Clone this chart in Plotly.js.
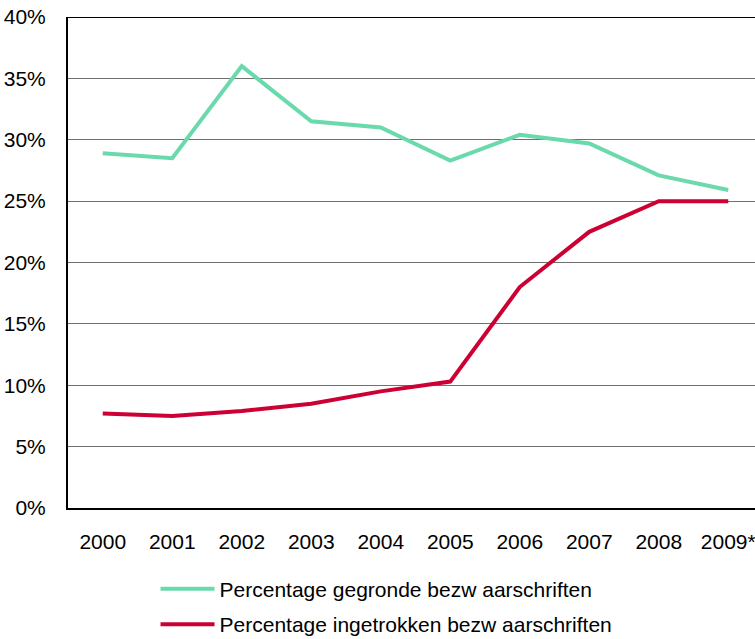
<!DOCTYPE html>
<html>
<head>
<meta charset="utf-8">
<script src="https://cdn.plot.ly/plotly-3.0.1.min.js"></script>
<style>html,body{margin:0;padding:0;background:#fff;overflow:hidden}#chart{width:755px;height:639px}</style>
</head>
<body>
<div id="chart"></div>
<script>
const years = ["2000","2001","2002","2003","2004","2005","2006","2007","2008","2009*"];
const gegronde = [28.9, 28.5, 36.0, 31.5, 31.0, 28.3, 30.4, 29.7, 27.1, 25.9];
const ingetrokken = [7.7, 7.5, 7.9, 8.5, 9.5, 10.3, 18.0, 22.5, 25.0, 25.0];
const seriesNames = ["Percentage gegronde bezw aarschriften", "Percentage ingetrokken bezw aarschriften"];
const yTicks = [0, 5, 10, 15, 20, 25, 30, 35, 40];
const yTickLabels = yTicks.map(v => v + "%");

const traces = [
  {x: years, y: gegronde, name: seriesNames[0], type: "scatter", mode: "lines",
   line: {color: "#6AD9AC", width: 4}, legendgroup: "a"},
  {x: years, y: ingetrokken, name: seriesNames[1], type: "scatter", mode: "lines",
   line: {color: "#CC0033", width: 4}, legendgroup: "b"}
];

const layout = {
  width: 755, height: 639,
  margin: {l: 68, r: 0, t: 17, b: 131, autoexpand: false},
  paper_bgcolor: "#fff", plot_bgcolor: "#fff",
  font: {family: "Liberation Sans, Arial, sans-serif", color: "#000", size: 21},
  showlegend: true,
  legend: {xref: "container", yref: "container", x: 0.206, y: 0.1100, xanchor: "left", yanchor: "top",
           orientation: "v", itemwidth: 54,
           font: {size: 21}, traceorder: "grouped", tracegroupgap: 5, bgcolor: "rgba(0,0,0,0)"},
  xaxis: {type: "category", range: [-0.5, 9.385], showgrid: false, zeroline: false,
          showline: true, linecolor: "#000", linewidth: 2, ticks: "", ticklabelstandoff: 14,
          tickfont: {size: 21}, fixedrange: true, automargin: false},
  yaxis: {range: [0, 40], tickvals: yTicks, ticktext: yTickLabels, showgrid: true,
          gridcolor: "#707070", gridwidth: 1, zeroline: false, showline: true,
          linecolor: "#000", linewidth: 2, ticks: "", ticklabelstandoff: 16,
          tickfont: {size: 21}, fixedrange: true, automargin: false},
  shapes: [{type: "line", xref: "paper", yref: "y", x0: 0, x1: 1, y0: 40, y1: 40,
            line: {color: "#000", width: 2}}]
};

Plotly.newPlot("chart", traces, layout, {displayModeBar: false, staticPlot: true});
</script>
</body>
</html>
